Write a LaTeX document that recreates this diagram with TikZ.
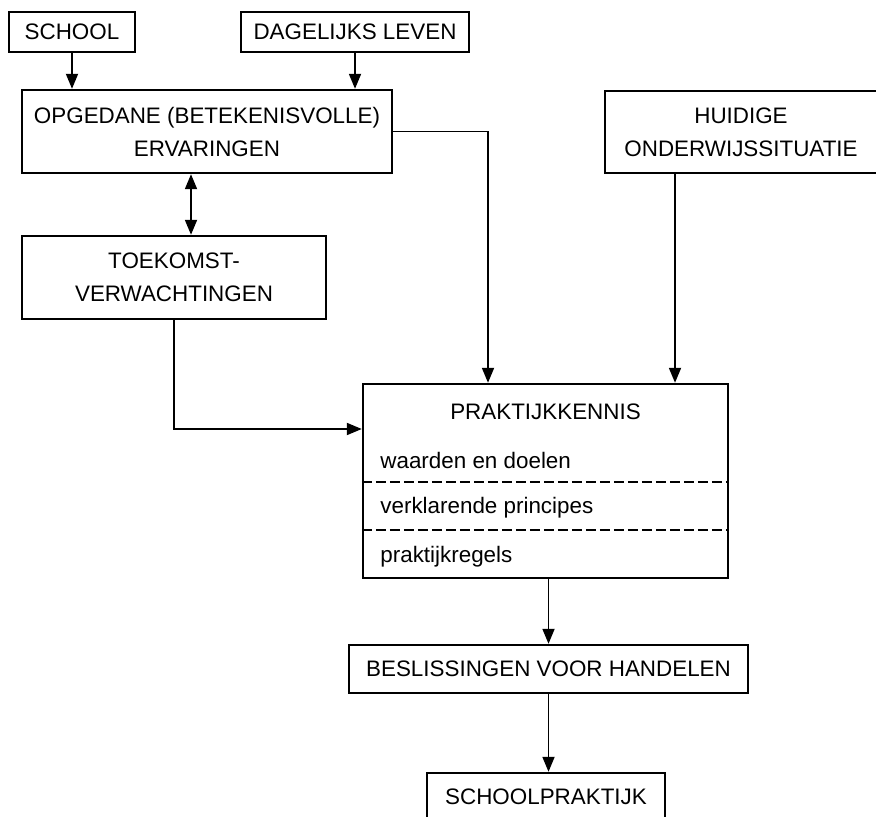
\documentclass[tikz,border=0pt]{standalone}
\usepackage{fontspec}
\setmainfont{Liberation Sans}
\usetikzlibrary{arrows.meta}

\begin{document}
\begin{tikzpicture}[x=0.5pt,y=-0.5pt,
		blok/.style={draw,line width=1.2pt,inner sep=0pt,align=center,font=\fontsize{11.2}{16.5}\selectfont},
		regel/.style={inner sep=0pt,anchor=west,font=\fontsize{11.2}{16.5}\selectfont},
		pijl/.style={line width=0.9pt,-{Triangle[length=7.5pt,width=6pt]}},
		tweepijl/.style={line width=0.9pt,{Triangle[length=7.5pt,width=6pt]}-{Triangle[length=7.5pt,width=6pt]}}]
			\useasboundingbox (0,0) rectangle (876,817);
			\node[blok,minimum width=63pt,minimum height=20pt] (school) at (72,32) {SCHOOL};
			\node[blok,minimum width=114pt,minimum height=20pt] (dagelijks) at (355,32) {DAGELIJKS LEVEN};
			\node[blok,minimum width=185pt,minimum height=41.5pt] (opgedane) at (207,131.5) {OPGEDANE (BETEKENISVOLLE)\\ERVARINGEN};
			\node[blok,minimum width=136pt,minimum height=41pt] (huidige) at (741,132) {HUIDIGE\\ONDERWIJSSITUATIE};
			\node[blok,minimum width=152pt,minimum height=41.5pt] (toekomst) at (174,277.5) {TOEKOMST-\\VERWACHTINGEN};
			\node[blok,minimum width=182.5pt,minimum height=97pt] (praktijk) at (545.5,481) {};
			\node[blok,draw=none] (titel) at (545.5,412) {PRAKTIJKKENNIS};
			\node[regel] (waarden) at (380,460) {waarden en doelen};
			\node[regel] (principes) at (380,508) {verklarende principes};
			\node[regel] (regels) at (380,557) {praktijkregels};
			\node[blok,minimum width=199.5pt,minimum height=24pt] (beslissingen) at (548.5,669) {BESLISSINGEN VOOR HANDELEN};
			\node[blok,minimum width=119pt,minimum height=24pt] (schoolpraktijk) at (546,797) {SCHOOLPRAKTIJK};
			
			% hulppunten
			\coordinate (scheiding1) at (0,482);
			\coordinate (scheiding2) at (0,530);
			\coordinate (dubbel) at (191,0);
			\coordinate (knik1) at (488,0);
			\coordinate (knik2) at (675,0);
			\coordinate (knik3) at (0,429);
			
			\draw[line width=0.9pt,dash pattern=on 5pt off 2pt] (praktijk.west |- scheiding1) -- (praktijk.east |- scheiding1);
			\draw[line width=0.9pt,dash pattern=on 5pt off 2pt] (praktijk.west |- scheiding2) -- (praktijk.east |- scheiding2);
			
			\draw[pijl] (school) -- (school |- opgedane.north);
			\draw[pijl] (dagelijks) -- (dagelijks |- opgedane.north);
			\draw[tweepijl] (dubbel |- opgedane.south) -- (dubbel |- toekomst.north);
			\draw[pijl] (opgedane.east) -| (knik1 |- praktijk.north);
			\draw[pijl] (knik2 |- huidige.south) -- (knik2 |- praktijk.north);
			\draw[pijl] (toekomst.south) |- (praktijk.west |- knik3);
			\draw[pijl] (praktijk.south -| beslissingen.north) -- (beslissingen.north);
			\draw[pijl] (beslissingen.south) -- (beslissingen.south |- schoolpraktijk.north);
		\end{tikzpicture}
\end{document}
